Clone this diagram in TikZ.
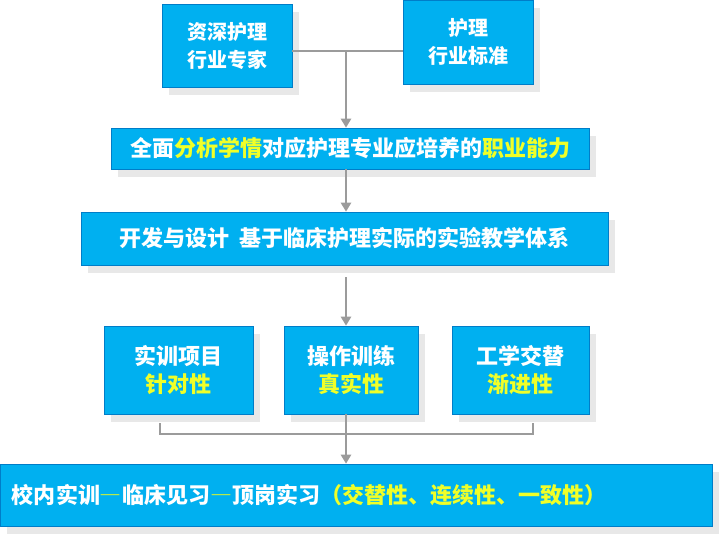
\documentclass[tikz,border=0pt]{standalone}
\usepackage{fontspec}
\setmainfont{Noto Sans CJK SC}
\usetikzlibrary{arrows.meta,shadows}
\definecolor{boxblue}{RGB}{0,176,240}
\definecolor{boxline}{RGB}{0,125,200}
\definecolor{hilite}{RGB}{240,255,40}
\definecolor{dashgreen}{RGB}{200,240,60}
\definecolor{linkgray}{RGB}{155,155,155}
\definecolor{shadegray}{RGB}{232,232,232}
\newcommand{\yel}[1]{\textcolor{hilite}{#1}}
\newcommand{\fwdash}{\textcolor{dashgreen}{\addfontfeature{RawFeature=+fwid}—}}

\begin{document}
\begin{tikzpicture}[x=1pt,y=-1pt,
	box/.style={draw=boxline,line width=.6pt,fill=boxblue,text=white,align=center,inner sep=0pt,
		font=\fontsize{22}{28}\selectfont\bfseries,
		drop shadow={shadow xshift=7pt,shadow yshift=-8pt,fill=shadegray,opacity=1}},
	link/.style={draw=linkgray,line width=2.6pt},
	tip/.style={-{Triangle[length=9pt,width=10pt]}}]
		\useasboundingbox (0,0) rectangle (722,536);
		
		% top: experts and standards
		\node[box,minimum width=130pt,minimum height=83pt,font=\fontsize{20}{28}\selectfont\bfseries] (expert) at (227,45.5) {资深护理\\行业专家};
		\node[box,minimum width=130pt,minimum height=84pt,font=\fontsize{20}{28}\selectfont\bfseries] (standard) at (468,42) {护理\\行业标准};
		\node[box,minimum width=478pt,minimum height=41pt] (analyse) at (350,148.5) {全面\yel{分析学情}对应护理专业应培养的\yel{职业能力}};
		\node[box,minimum width=527pt,minimum height=53pt] (design) at (344.5,238.5) {开发与设计\ \ 基于临床护理实际的实验教学体系};
		
		% three features
		\node[box,minimum width=149pt,minimum height=88pt] (project) at (178.5,370) {实训项目\\\yel{针对性}};
		\node[box,minimum width=134pt,minimum height=88pt] (train) at (351,370) {操作训练\\\yel{真实性}};
		\node[box,minimum width=137pt,minimum height=88pt] (alternate) at (520.5,370) {工学交替\\\yel{渐进性}};
		
		\node[box,minimum width=712pt,minimum height=62pt,text width=688pt,align=left] (practice) at (356,495)
			{校内实训\fwdash 临床见习\fwdash 顶岗实习\yel{（交替性、连续性、一致性）}};
		
		% connectors
		\coordinate (join) at (346,51);
		\coordinate (brL) at (160,423);
		\coordinate (brR) at (533,423);
		\coordinate (brB) at (346,434);
		\coordinate (dsgn) at (346,277);
		\draw[link] (expert.east |- join) -- (standard.west |- join);
		\draw[link,tip] (join) -- (join |- analyse.north);
		\draw[link,tip] (analyse.south -| join) -- (design.north -| join);
		\draw[link,tip] (dsgn) -- (dsgn |- train.north);
		\draw[link,line width=2pt] (brL) -- (brL |- brB) -- (brR |- brB) -- (brR);
		\draw[link,tip] (train.south -| join) -- (practice.north -| join);
	\end{tikzpicture}
\end{document}
